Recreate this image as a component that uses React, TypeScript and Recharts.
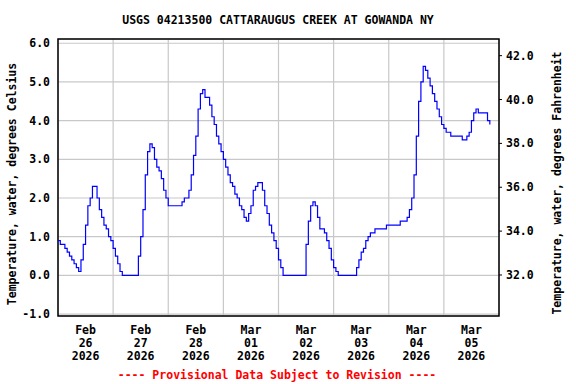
import { CartesianGrid, Line, LineChart, ReferenceArea, XAxis, YAxis } from "recharts";

// hourly water temperature (deg C), one array per day
const feb26 = [0.9, 0.8, 0.8, 0.7, 0.6, 0.5, 0.4, 0.3, 0.2, 0.1, 0.4, 0.8, 1.3, 1.8, 2.0, 2.3, 2.3, 2.0, 1.7, 1.5, 1.3, 1.2, 1.0, 0.9];
const feb27 = [0.7, 0.5, 0.3, 0.1, 0, 0, 0, 0, 0, 0, 0, 0.5, 1.0, 1.7, 2.6, 3.2, 3.4, 3.3, 3.0, 2.8, 2.7, 2.5, 2.2, 2.0];
const feb28 = [1.8, 1.8, 1.8, 1.8, 1.8, 1.8, 1.9, 2.0, 2.0, 2.2, 2.6, 3.1, 3.6, 4.3, 4.7, 4.8, 4.6, 4.6, 4.4, 4.1, 3.9, 3.6, 3.4, 3.2];
const mar01 = [3.0, 2.8, 2.6, 2.4, 2.3, 2.1, 2.0, 1.8, 1.7, 1.5, 1.4, 1.6, 1.8, 2.2, 2.3, 2.4, 2.4, 2.2, 1.8, 1.6, 1.3, 1.1, 0.9, 0.7];
const mar02 = [0.4, 0.2, 0, 0, 0, 0, 0, 0, 0, 0, 0, 0, 0.8, 1.4, 1.8, 1.9, 1.8, 1.5, 1.2, 1.2, 1.1, 0.9, 0.7, 0.4];
const mar03 = [0.2, 0.1, 0, 0, 0, 0, 0, 0, 0, 0, 0.2, 0.4, 0.6, 0.7, 0.9, 1.0, 1.1, 1.1, 1.2, 1.2, 1.2, 1.2, 1.2, 1.3];
const mar04 = [1.3, 1.3, 1.3, 1.3, 1.3, 1.4, 1.4, 1.4, 1.5, 1.7, 2.0, 2.6, 3.6, 4.5, 5.0, 5.4, 5.3, 5.1, 4.9, 4.7, 4.5, 4.3, 4.1, 3.9];
const mar05 = [3.8, 3.7, 3.7, 3.6, 3.6, 3.6, 3.6, 3.6, 3.5, 3.5, 3.6, 3.7, 4.0, 4.2, 4.3, 4.2, 4.2, 4.2, 4.2, 4.0, 3.9];

const months = ["Feb", "Feb", "Feb", "Mar", "Mar", "Mar", "Mar", "Mar"];
const days = ["26", "27", "28", "01", "02", "03", "04", "05"];
const year = "2026";

const celsiusTicks = [-1, 0, 1, 2, 3, 4, 5, 6];
const fahrenheitTicks = [32, 34, 36, 38, 40, 42];
const midnights = [0, 24, 48, 72, 96, 120, 144, 168, 192];
const noons = [12, 36, 60, 84, 108, 132, 156, 180];

const temps = [...feb26, ...feb27, ...feb28, ...mar01, ...mar02, ...mar03, ...mar04, ...mar05];
const data = temps.map((t, i) => ({ hour: i, temp: t }));

const cDomain = [-1.05, 6.11];
const fDomain = [30.13, 42.76];

const font = "'DejaVu Sans Mono', monospace";

function DateTick({ x, y, payload }: any) {
  const i = noons.indexOf(payload.value);
  return (
    <text x={x} y={y} textAnchor="middle" fontFamily={font} fontWeight="bold" fontSize={11.5} fill="#000">
      <tspan x={x} dy={18}>{months[i]}</tspan>
      <tspan x={x} dy={13}>{days[i]}</tspan>
      <tspan x={x} dy={13}>{year}</tspan>
    </text>
  );
}

const tickStyle = { fontFamily: font, fontWeight: "bold", fontSize: 11.5, fill: "#000" };

export default function App() {
  return (
    <div style={{ position: "absolute", left: 0, top: 0, width: 576, height: 384, background: "#fff" }}>
      <LineChart width={576} height={384} data={data} margin={{ top: 39, right: 0, bottom: 0, left: 0 }}>
        <XAxis xAxisId="grid" dataKey="hour" type="number" domain={[0, 192]} ticks={midnights} height={0} hide />
        <XAxis
          xAxisId="main"
          dataKey="hour"
          type="number"
          domain={[0, 192]}
          ticks={noons}
          interval={0}
          height={68}
          tick={<DateTick />}
          tickLine={false}
          axisLine={false}
          tickSize={0}
          tickMargin={0}
        />
        <YAxis
          yAxisId="c"
          orientation="left"
          type="number"
          width={58}
          domain={cDomain}
          allowDataOverflow
          ticks={celsiusTicks}
          interval={0}
          tickFormatter={(v: number) => v.toFixed(1)}
          tick={tickStyle}
          tickLine={false}
          axisLine={false}
          tickSize={4}
          tickMargin={4}
        />
        <YAxis
          yAxisId="f"
          orientation="right"
          type="number"
          width={77}
          domain={fDomain}
          allowDataOverflow
          ticks={fahrenheitTicks}
          interval={0}
          tickFormatter={(v: number) => v.toFixed(1)}
          tick={tickStyle}
          tickLine={{ stroke: "#000" }}
          axisLine={false}
          tickSize={3}
          tickMargin={4}
        />
        <CartesianGrid xAxisId="grid" yAxisId="c" stroke="#c8c8c8" strokeWidth={1.2} />
        <Line
          xAxisId="main"
          yAxisId="c"
          dataKey="temp"
          type="stepAfter"
          stroke="#0000ff"
          strokeWidth={1.2}
          dot={false}
          isAnimationActive={false}
        />
        <ReferenceArea
          xAxisId="main"
          yAxisId="c"
          x1={0}
          x2={192}
          y1={cDomain[0]}
          y2={cDomain[1]}
          fill="none"
          stroke="#000"
          strokeWidth={1.5}
          ifOverflow="visible"
        />
        <text x={278} y={24} textAnchor="middle" fontFamily={font} fontWeight="bold" fontSize={11.5} fill="#000">
          USGS 04213500 CATTARAUGUS CREEK AT GOWANDA NY
        </text>
        <text x={277} y={379} textAnchor="middle" fontFamily={font} fontWeight="bold" fontSize={11.5} fill="#ff0000">
          ---- Provisional Data Subject to Revision ----
        </text>
        <text
          x={16}
          y={184}
          transform="rotate(-90 16 184)"
          textAnchor="middle"
          fontFamily={font}
          fontWeight="bold"
          fontSize={11.5}
          fill="#000"
        >
          Temperature, water, degrees Celsius
        </text>
        <text
          x={561}
          y={183}
          transform="rotate(-90 561 183)"
          textAnchor="middle"
          fontFamily={font}
          fontWeight="bold"
          fontSize={11.5}
          fill="#000"
        >
          Temperature, water, degrees Fahrenheit
        </text>
      </LineChart>
    </div>
  );
}
